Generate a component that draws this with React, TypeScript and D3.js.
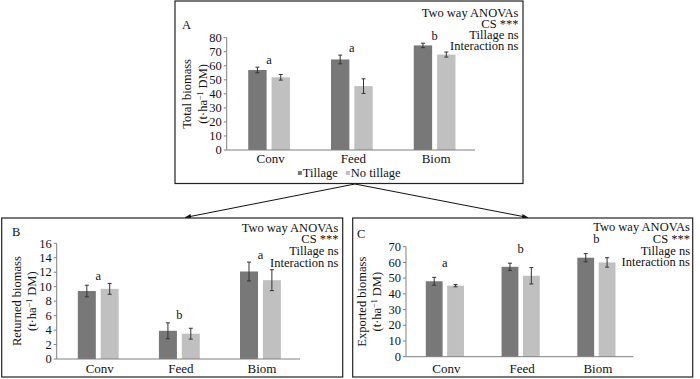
import React from 'react';
import * as d3 from 'd3';

const categories = ['Conv', 'Feed', 'Biom'];
const seriesNames = ['Tillage', 'No tillage'];
const anovaLines = ['Two way ANOVAs', 'CS ***', 'Tillage ns', 'Interaction ns'];

const totalTillage = [57, 64.5, 74.5];
const totalTillageErr = [2, 3.1, 1.6];
const totalNoTillage = [51.8, 45.5, 68];
const totalNoTillageErr = [2, 5.2, 1.8];
const totalLetters = ['a', 'a', 'b'];
const totalTicks = [0, 10, 20, 30, 40, 50, 60, 70, 80];

const returnedTillage = [9.4, 3.9, 12.1];
const returnedTillageErr = [0.8, 1.1, 1.3];
const returnedNoTillage = [9.7, 3.5, 10.9];
const returnedNoTillageErr = [0.75, 0.75, 1.45];
const returnedLetters = ['a', 'b', 'a'];
const returnedTicks = [0, 2, 4, 6, 8, 10, 12, 14, 16];

const exportedTillage = [48, 57.2, 63];
const exportedTillageErr = [2.5, 2.3, 2.6];
const exportedNoTillage = [45.2, 51.5, 60];
const exportedNoTillageErr = [0.7, 5.2, 3];
const exportedLetters = ['a', 'b', 'b'];
const exportedTicks = [0, 10, 20, 30, 40, 50, 60, 70];

const DARK = '#787878';
const LIGHT = '#c0c0c0';
const FONT = '"Liberation Serif", "Times New Roman", serif';
const TXT = '#111';
const AXIS = '#808080';

type PanelProps = {
  box: [number, number, number, number];
  x0: number; x1: number; yB: number; yT: number;
  ticks: number[];
  a: number[]; aErr: number[]; b: number[]; bErr: number[];
  letters: string[];
  letterGap: number;
  tag: string; tagX: number; tagY: number;
  title: string; t2x: number; t1x: number;
  annoRight: number; annoTop: number; annoStep: number;
  catY: number;
  legendY?: number;
};

function Panel(p: PanelProps) {
  const x = d3.scaleBand<string>().domain(categories).range([p.x0 + 1, p.x1 + 1]);
  const y = d3.scaleLinear().domain([0, p.ticks[p.ticks.length - 1]]).range([p.yB, p.yT]);
  const band = x.bandwidth();
  const bw = band * 0.222;
  const gap = band * 0.06;
  const yMid = (p.yB + p.yT) / 2;
  const series = [
    { v: p.a, e: p.aErr, c: DARK, off: -gap / 2 - bw },
    { v: p.b, e: p.bErr, c: LIGHT, off: gap / 2 },
  ];
  const [bx0, by0, bx1, by1] = p.box;
  return (
    <g>
      <rect x={bx0} y={by0} width={bx1 - bx0} height={by1 - by0} fill="white" stroke="#222" strokeWidth={1.2} />
      <text x={p.tagX} y={p.tagY} fontSize={12.5} fill={TXT}>{p.tag}</text>
      {anovaLines.map((s, i) => (
        <text key={s} x={p.annoRight} y={p.annoTop + i * p.annoStep} fontSize={12.5} textAnchor="end" fill={TXT}>{s}</text>
      ))}
      {series.map((s, si) =>
        categories.map((c, i) => {
          const cx = (x(c) as number) + band / 2 + s.off;
          return (
            <g key={si + c}>
              <rect x={cx} y={y(s.v[i])} width={bw} height={p.yB - y(s.v[i])} fill={s.c} />
              <line x1={cx + bw / 2} x2={cx + bw / 2} y1={y(s.v[i] + s.e[i])} y2={y(s.v[i] - s.e[i])} stroke="#333" strokeWidth={1} />
              <line x1={cx + bw / 2 - 2} x2={cx + bw / 2 + 2} y1={y(s.v[i] + s.e[i])} y2={y(s.v[i] + s.e[i])} stroke="#333" strokeWidth={1} />
              <line x1={cx + bw / 2 - 2} x2={cx + bw / 2 + 2} y1={y(s.v[i] - s.e[i])} y2={y(s.v[i] - s.e[i])} stroke="#333" strokeWidth={1} />
            </g>
          );
        })
      )}
      {categories.map((c, i) => {
        const top = Math.max(p.a[i] + p.aErr[i], p.b[i] + p.bErr[i]);
        return (
          <text key={'l' + c} x={(x(c) as number) + band / 2} y={y(top) - p.letterGap + 3.5} fontSize={12.5} textAnchor="middle" fill={TXT}>{p.letters[i]}</text>
        );
      })}
      <line x1={p.x0} x2={p.x0} y1={p.yT} y2={p.yB} stroke={AXIS} />
      <line x1={p.x0} x2={p.x1} y1={p.yB} y2={p.yB} stroke={AXIS} />
      {p.ticks.map((t) => (
        <g key={'t' + t}>
          <line x1={p.x0 - 3} x2={p.x0} y1={y(t)} y2={y(t)} stroke={AXIS} />
          <text x={p.x0 - 5} y={y(t) + 4.2} fontSize={12.5} textAnchor="end" fill={TXT}>{t}</text>
        </g>
      ))}
      {categories.map((c) => (
        <text key={'c' + c} x={(x(c) as number) + band / 2 + 1.5} y={p.catY} fontSize={13} textAnchor="middle" fill={TXT}>{c}</text>
      ))}
      <text transform={`translate(${p.t1x},${yMid}) rotate(-90)`} fontSize={12.5} textAnchor="middle" fill={TXT}>{p.title}</text>
      <text transform={`translate(${p.t2x},${yMid}) rotate(-90)`} fontSize={12.5} textAnchor="middle" fill={TXT}>
        (t·ha<tspan fontSize={8} dy={-4}>−1</tspan><tspan dy={4}> DM)</tspan>
      </text>
      {p.legendY !== undefined && (() => {
        const cx = (p.x0 + p.x1) / 2;
        const start = cx - 53;
        return (
          <g>
            <rect x={start} y={p.legendY - 2} width={4} height={4} fill={DARK} />
            <text x={start + 5} y={p.legendY + 4} fontSize={12.5} fill={TXT}>{seriesNames[0]}</text>
            <rect x={start + 48} y={p.legendY - 2} width={4} height={4} fill={LIGHT} />
            <text x={start + 53} y={p.legendY + 4} fontSize={12.5} fill={TXT}>{seriesNames[1]}</text>
          </g>
        );
      })()}
    </g>
  );
}

export default function App() {
  return (
    <svg width={700} height={379} style={{ position: 'absolute', left: 0, top: 0, background: 'white' }} fontFamily={FONT}>
      <defs>
        <marker id="arr" viewBox="0 0 10 10" refX={10} refY={5} markerWidth={6} markerHeight={6} orient="auto">
          <path d="M0,1 L10,5 L0,9 z" fill="#111" />
        </marker>
      </defs>
      <rect x={0} y={0} width={700} height={379} fill="white" />
      <line x1={355} y1={184} x2={185} y2={217.5} stroke="#111" strokeWidth={1} markerEnd="url(#arr)" />
      <line x1={355} y1={184} x2={528} y2={217.5} stroke="#111" strokeWidth={1} markerEnd="url(#arr)" />
      <Panel
        box={[175, 1, 523, 183.5]} x0={226.7} x1={475} yB={150} yT={37.7} ticks={totalTicks}
        a={totalTillage} aErr={totalTillageErr} b={totalNoTillage} bErr={totalNoTillageErr}
        letters={totalLetters} letterGap={7}
        tag="A" tagX={182} tagY={28.5}
        title="Total biomass" t1x={190.5} t2x={207}
        annoRight={518.5} annoTop={16.5} annoStep={11.3}
        catY={162.5} legendY={173}
      />
      <Panel
        box={[1.7, 218, 342.7, 377]} x0={56.7} x1={300} yB={359} yT={243.3} ticks={returnedTicks}
        a={returnedTillage} aErr={returnedTillageErr} b={returnedNoTillage} bErr={returnedNoTillageErr}
        letters={returnedLetters} letterGap={7}
        tag="B" tagX={12} tagY={236}
        title="Returned biomass" t1x={20.5} t2x={35.5}
        annoRight={338.5} annoTop={231.5} annoStep={11.8}
        catY={372.5}
      />
      <Panel
        box={[352.7, 218, 692.7, 377]} x0={406} x1={633.3} yB={356.7} yT={246.7} ticks={exportedTicks}
        a={exportedTillage} aErr={exportedTillageErr} b={exportedNoTillage} bErr={exportedNoTillageErr}
        letters={exportedLetters} letterGap={14}
        tag="C" tagX={357} tagY={237.5}
        title="Exported biomass" t1x={365.5} t2x={380.5}
        annoRight={690} annoTop={231} annoStep={11.8}
        catY={372.5}
      />
    </svg>
  );
}
